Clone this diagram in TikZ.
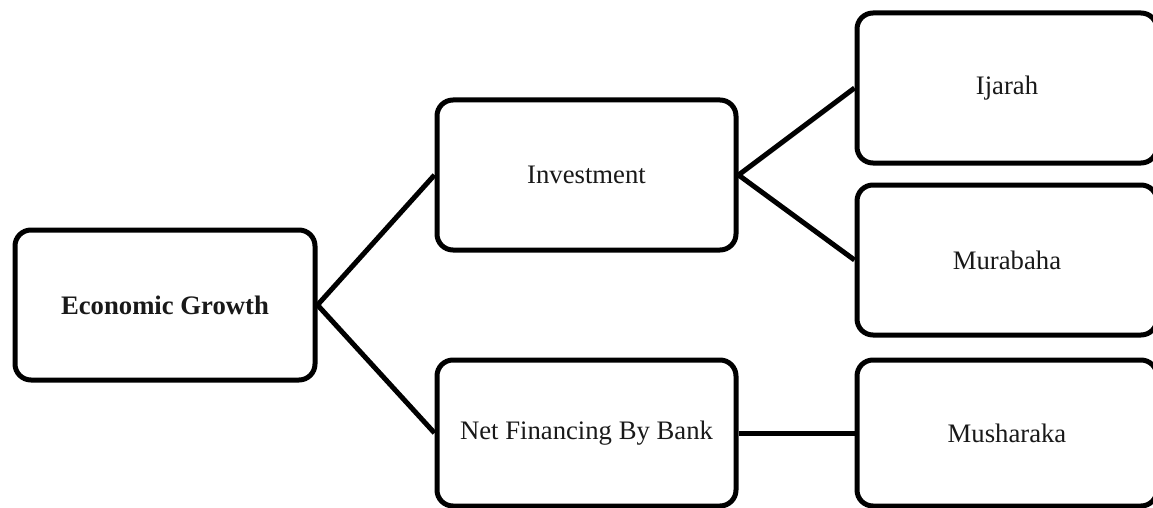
\documentclass[tikz,border=0pt]{standalone}
\usepackage{fontspec}
\setmainfont{Liberation Serif}
\begin{document}
\begin{tikzpicture}[x=1pt,y=-1pt,
  box/.style={draw=black, line width=5pt, rounded corners=16pt, fill=white,
    minimum width=300pt, minimum height=150pt, inner sep=0pt,
    font=\fontsize{26.7}{32}\selectfont, text=black!90},
  link/.style={draw=black, line width=5pt}]
\useasboundingbox (0,0) rectangle (1153,508);
\clip (0,0) rectangle (1153,508);
\fill[white] (0,0) rectangle (1153,508);
\node[box, font=\fontsize{26.7}{32}\selectfont\bfseries] (eg) at (165,305) {Economic Growth};
\node[box, minimum width=299pt] (inv) at (586.5,175) {Investment};
\node[box, minimum width=299pt, minimum height=146pt] (nfb) at (586.5,433) {Net Financing By Bank};
\node[box] (ij) at (1007,88) {Ijarah};
\node[box] (mu) at (1007,260) {Murabaha};
\node[box, minimum height=146pt] (ms) at (1007,433) {Musharaka};
\draw[link] (eg.east) -- (inv.west);
\draw[link] (eg.east) -- (nfb.west);
\draw[link] (inv.east) -- (ij.west);
\draw[link] (inv.east) -- (mu.west);
\draw[link] (nfb.east) -- (ms.west);
\end{tikzpicture}
\end{document}
